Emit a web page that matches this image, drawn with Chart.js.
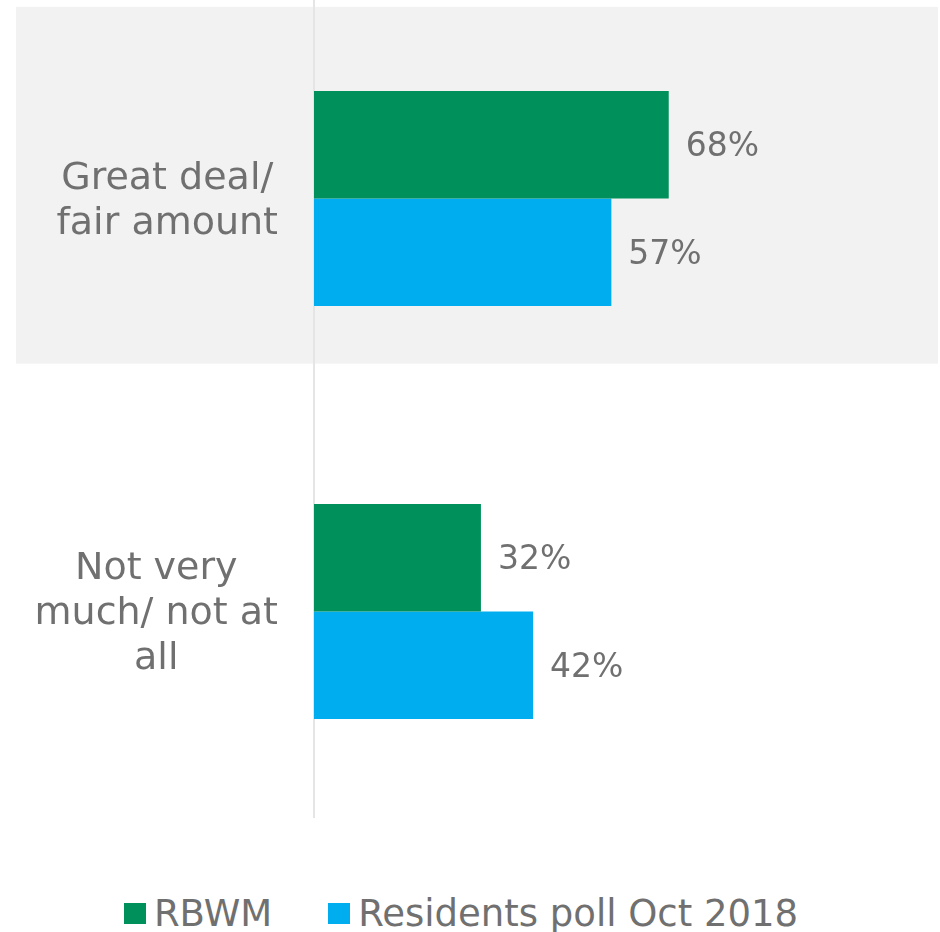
<!DOCTYPE html>
<html>
<head>
<meta charset="utf-8">
<script src="https://cdn.jsdelivr.net/npm/chart.js@4.4.1/dist/chart.umd.min.js"></script>
<style>
  html, body { margin: 0; padding: 0; background: #fff; }
  body { width: 940px; height: 932px; position: relative; overflow: hidden; font-family: "DejaVu Sans", sans-serif; }
  #wrap { position: absolute; left: 0; top: -8px; width: 940px; height: 826px; }
  #legend { position: absolute; left: 0; top: 892px; width: 922px; padding-right: 18px; height: 42px; display: flex; justify-content: center; align-items: center; color: #707070; font-size: 37px; }
  .item { display: flex; align-items: center; margin: 0 28px; }
  .box { width: 22px; height: 21px; margin-right: 8px; }
</style>
</head>
<body>
<div id="wrap"><canvas id="chart" width="940" height="826"></canvas></div>
<div id="legend"></div>
<script>
var categories = [['Great deal/', 'fair amount'], ['Not very', 'much/ not at', 'all']]
var seriesNames = ['RBWM', 'Residents poll Oct 2018']
var rbwmValues = [68, 32]
var pollValues = [57, 42]
var seriesColors = ['#00905b', '#00aeef']
var textColor = '#707070'

Chart.defaults.font.family = '"DejaVu Sans", sans-serif'

// grey panel behind the first category
var bandPlugin = {
  id: 'band',
  beforeDraw: function(chart) {
    var y = chart.scales.y
    var ctx = chart.ctx
    var top = y.getPixelForValue(-0.464)
    var bottom = y.getPixelForValue(0.40)
    ctx.save()
    ctx.fillStyle = '#f2f2f2'
    ctx.fillRect(16, top, chart.width - 18, bottom - top)
    ctx.restore()
  }
}

// category labels: block right aligned, lines centred inside it
var yLabelsPlugin = {
  id: 'yLabels',
  afterDraw: function(chart) {
    var scale = chart.scales.y
    var ctx = chart.ctx
    ctx.save()
    ctx.font = '38px "DejaVu Sans"'
    ctx.fillStyle = textColor
    ctx.textAlign = 'center'
    ctx.textBaseline = 'middle'
    var right = scale.right - 36
    categories.forEach(function(lines, i) {
      var widest = Math.max.apply(null, lines.map(function(l) { return ctx.measureText(l).width }))
      var cx = right - widest / 2
      var y0 = scale.getPixelForValue(i) + 3 - (lines.length - 1) * 45 / 2
      lines.forEach(function(l, k) {
        ctx.fillText(l, cx, y0 + k * 45)
      })
    })
    ctx.restore()
  }
}

var valueLabelsPlugin = {
  id: 'valueLabels',
  afterDatasetsDraw: function(chart) {
    var ctx = chart.ctx
    ctx.save()
    ctx.font = '33px "DejaVu Sans"'
    ctx.fillStyle = textColor
    ctx.textAlign = 'left'
    ctx.textBaseline = 'middle'
    chart.data.datasets.forEach(function(ds, i) {
      chart.getDatasetMeta(i).data.forEach(function(bar, j) {
        ctx.fillText(ds.data[j] + '%', bar.x + 17, bar.y + 3)
      })
    })
    ctx.restore()
  }
}

var chart = new Chart(document.getElementById('chart'), {
  type: 'bar',
  data: {
    labels: categories,
    datasets: [
      { label: seriesNames[0], data: rbwmValues, backgroundColor: seriesColors[0] },
      { label: seriesNames[1], data: pollValues, backgroundColor: seriesColors[1] }
    ]
  },
  options: {
    indexAxis: 'y',
    responsive: false,
    animation: false,
    barPercentage: 1,
    categoryPercentage: 0.52,
    layout: { padding: 0 },
    plugins: {
      legend: { display: false },
      tooltip: { enabled: false }
    },
    scales: {
      x: { display: false, min: 0, max: 120 },
      y: {
        grid: { display: false },
        ticks: { display: false },
        border: { display: true, color: '#e5e5e5', width: 2 },
        afterFit: function(scale) { scale.width = 314 }
      }
    }
  },
  plugins: [bandPlugin, yLabelsPlugin, valueLabelsPlugin]
})

var legend = document.getElementById('legend')
chart.data.datasets.forEach(function(ds) {
  var item = document.createElement('div')
  item.className = 'item'
  var box = document.createElement('span')
  box.className = 'box'
  box.style.background = ds.backgroundColor
  var txt = document.createElement('span')
  txt.textContent = ds.label
  item.appendChild(box)
  item.appendChild(txt)
  legend.appendChild(item)
})
</script>
</body>
</html>
